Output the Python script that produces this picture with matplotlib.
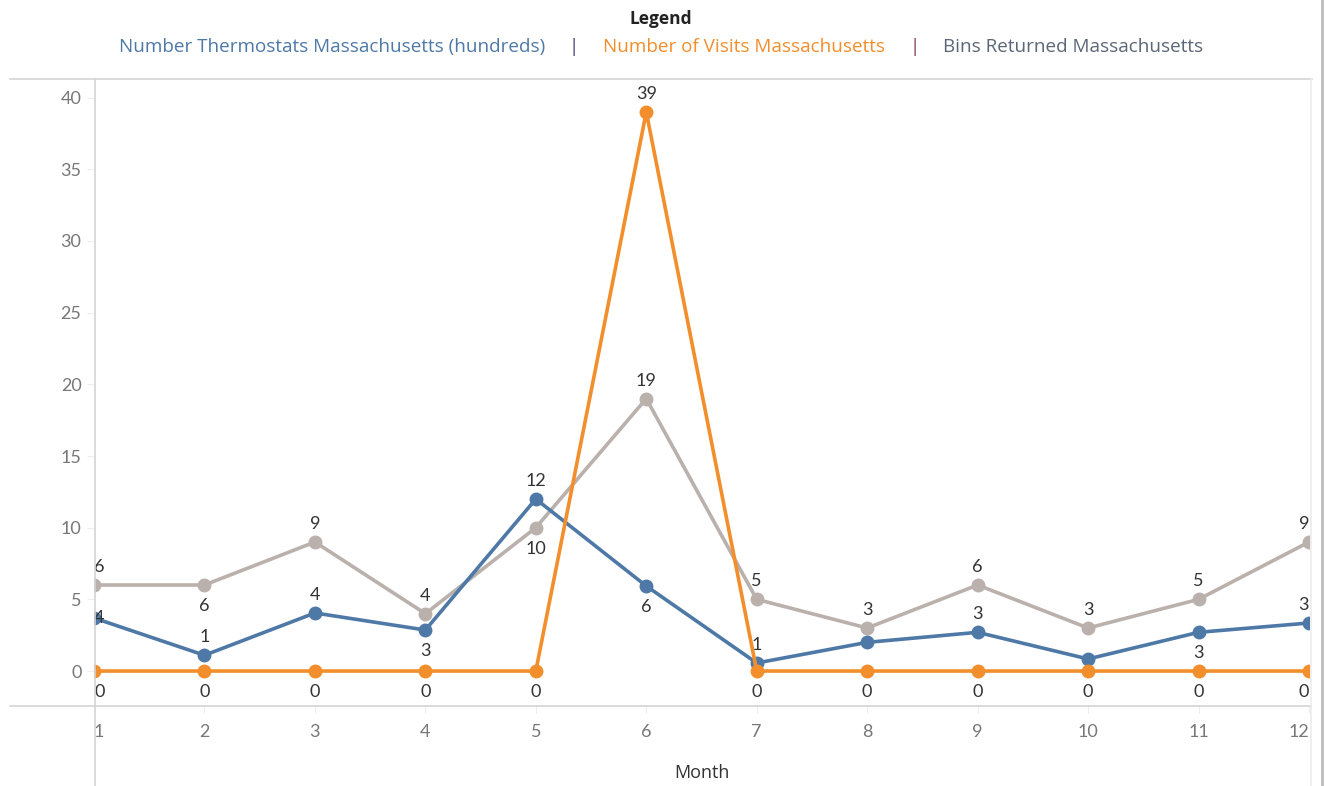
import matplotlib
matplotlib.use("Agg")
import matplotlib.pyplot as plt
from matplotlib.lines import Line2D

months = [1, 2, 3, 4, 5, 6, 7, 8, 9, 10, 11, 12]
thermostats = [3.7, 1.1, 4.05, 2.86, 12.0, 5.93, 0.56, 2.0, 2.7, 0.84, 2.7, 3.35]
visits = [0, 0, 0, 0, 0, 39, 0, 0, 0, 0, 0, 0]
bins = [6, 6, 9, 4, 10, 19, 5, 3, 6, 3, 5, 9]

names = ["Number Thermostats Massachusetts (hundreds)",
         "Number of Visits Massachusetts",
         "Bins Returned Massachusetts"]
colors = ["#4e79a7", "#f28e2b", "#bab0ac"]
legend_text_colors = ["#4e79a7", "#f28e2b", "#5b6676"]

# label placement per point: 'a' above, 'b' below, 'c' on point, '' none
pos_therm = ['c', 'a', 'a', 'b', 'a', 'b', 'a', '', 'a', '', 'b', 'a']
pos_visits = ['b', 'b', 'b', 'b', 'b', 'a', 'b', 'b', 'b', 'b', 'b', 'b']
pos_bins = ['a', 'b', 'a', 'a', 'b', 'a', 'a', 'a', 'a', 'a', 'a', 'a']

NUMFONT = ["Lato", "DejaVu Sans"]
TXTFONT = ["Open Sans", "DejaVu Sans"]
plt.rcParams['font.family'] = NUMFONT

W, H = 1325, 786
fig = plt.figure(figsize=(W / 100, H / 100), dpi=100)
ax_l, ax_r, ax_t, ax_b = 94, 1309, 79, 706
ax = fig.add_axes([ax_l / W, 1 - ax_b / H, (ax_r - ax_l) / W, (ax_b - ax_t) / H])
ax.set_xlim(1, 12)
ax.set_ylim(-2.44, 41.3)

series = [(thermostats, pos_therm), (visits, pos_visits), (bins, pos_bins)]
zorders = [3, 4, 2]
for (vals, pos), c, z in zip(series, colors, zorders):
    ax.plot(months, vals, color=c, lw=2.6, marker='o', ms=9, zorder=z,
            solid_joinstyle='round')

for (vals, pos), z in zip(series, zorders):
    for m, v, p in zip(months, vals, pos):
        if not p:
            continue
        dy = {'a': 13, 'b': -15, 'c': 0}[p]
        ha = 'left' if m == months[0] else ('right' if m == months[-1] else 'center')
        ax.annotate(f"{round(v)}", (m, v), xytext=(0, dy), textcoords='offset points',
                    ha=ha, va='center', fontsize=13, color='#333333', zorder=10)

for s in ax.spines.values():
    s.set_visible(False)
ax.set_yticks([0, 5, 10, 15, 20, 25, 30, 35, 40])
ax.set_xticks(months)
ax.tick_params(axis='y', length=5, color='#eeeeee', labelcolor='#777777',
               labelsize=13, pad=4)
ax.tick_params(axis='x', length=5, color='#eeeeee', labelcolor='#777777',
               labelsize=13, pad=8)
ax.patch.set_visible(False)
for lab in ax.get_xticklabels():
    if lab.get_text() == str(months[0]):
        lab.set_ha('left')
    elif lab.get_text() == str(months[-1]):
        lab.set_ha('right')

# frame lines
def hline(y, x0, x1, c='#d4d4d4', lw=1.2):
    fig.add_artist(Line2D([x0 / W, x1 / W], [1 - y / H, 1 - y / H], color=c, lw=lw))

def vline(x, y0, y1, c='#d4d4d4', lw=1.2):
    fig.add_artist(Line2D([x / W, x / W], [1 - y0 / H, 1 - y1 / H], color=c, lw=lw))

hline(79, 10, 1312)
hline(706, 10, 1311)
vline(95, 79, 786)
vline(1311, 79, 786, c='#ececec')
vline(1322, 0, 786, c='#bdbdbd', lw=2)

fig.text(702 / W, 1 - 773 / H, "Month", ha='center', va='center', fontsize=13,
         color='#333333', family=TXTFONT)

# legend
fig.text(661 / W, 1 - 19 / H, "Legend", ha='center', va='center', fontsize=12.5,
         fontweight='bold', color='#222222', family=TXTFONT)
renderer = fig.canvas.get_renderer()
pieces = [(names[0], legend_text_colors[0]), ("|", "#3c3c6a"),
          (names[1], legend_text_colors[1]), ("|", "#7a3a50"),
          (names[2], legend_text_colors[2])]
gap = 24
texts = []
for t, c in pieces:
    tx = fig.text(0, 1 - 47 / H, t, ha='left', va='center', fontsize=13.6, color=c,
                  family=TXTFONT)
    texts.append(tx)
widths = [tx.get_window_extent(renderer).width for tx in texts]
total = sum(widths) + gap * (len(widths) - 1)
x = 661 - total / 2
for tx, w in zip(texts, widths):
    tx.set_x(x / W)
    x += w + gap

fig.savefig("out.png", dpi=100)
